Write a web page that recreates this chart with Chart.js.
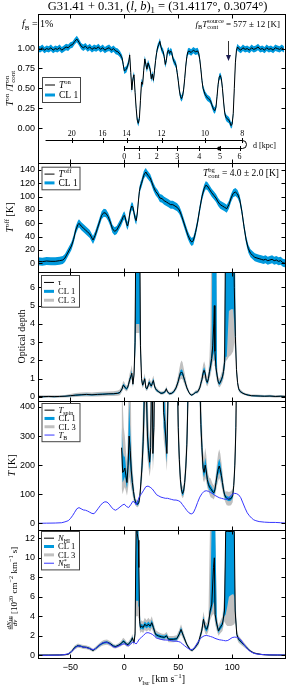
<!DOCTYPE html>
<html>
<head>
<meta charset="utf-8">
<title>G31.41+0.31 HI absorption</title>
<script src="https://cdn.jsdelivr.net/npm/chart.js@4.4.1/dist/chart.umd.min.js"></script>
<style>
  html, body { margin: 0; padding: 0; background: #fff; }
  #fig { position: relative; width: 287px; height: 688px; overflow: hidden; }
  #fig canvas { position: absolute; left: 0; }
</style>
</head>
<body>
<div id="fig">
  <canvas id="c1" width="287" height="173" style="top:0px"></canvas>
  <canvas id="c2" width="287" height="129" style="top:153px"></canvas>
  <canvas id="c3" width="287" height="149" style="top:262px"></canvas>
  <canvas id="c4" width="287" height="149" style="top:391px"></canvas>
  <canvas id="c5" width="287" height="168" style="top:520px"></canvas>
</div>
<script>
// velocity axis (km/s)
const vMin = -80, vMax = 149;
const xTicks = [-50, 0, 50, 100];

// panel 1: on-source / continuum ratio
const vOn = [
  -80,-78,-76,-74,-72,-70,-68,-66,-64,-62,
  -60,-58,-56,-54,-52,-50,-48,-46,-44,-42,
  -40,-38,-36,-34,-32,-30,-28,-26,-24,-22,
  -20,-18,-16,-14,-12,-10,-8,-6,-4,-2,
  -1,0,1,2,3,4,5,6,7,8,
  9,10,11,12,13,14,15,16,17,18,
  19,20,21,22,23,24,25,26,27,28,
  29,30,31,32,33,34,35,36,37,38,
  39,40,41,42,43,44,45,46,47,48,
  49,50,51,52,53,54,55,56,57,58,
  59,60,62,64,66,68,69,70,71,72,
  73,74,75,76,77,78,79,80,81,82,
  83,84,85,86,87,88,89,90,91,92,
  93,94,95,96,97,98,99,100,101,102,
  103,104,105,106,108,110,112,114,116,118,
  120,122,124,126,128,130,132,134,136,138,
  140,142,144,146,148
];
const onRatio = [
  1.00,0.99,1.01,0.98,1.00,0.99,1.01,0.98,1.00,0.99,
  1.01,0.98,1.00,1.02,1.01,1.04,1.05,1.09,1.12,1.08,
  1.03,1.01,1.03,1.00,1.02,0.99,1.01,1.00,1.02,0.99,
  1.01,0.98,1.00,1.01,0.98,1.00,0.97,0.96,0.93,0.88,
  0.80,0.72,0.73,0.74,0.78,0.82,0.92,0.70,0.48,0.62,
  0.67,0.45,0.25,0.10,0.06,0.12,0.35,0.58,0.55,0.72,
  0.87,0.80,0.74,0.82,0.78,0.74,0.62,0.68,0.60,0.72,
  0.85,0.95,1.02,1.05,1.09,1.02,0.98,0.96,0.90,0.80,
  0.85,0.96,0.98,0.94,0.97,0.95,0.88,0.84,0.82,0.79,
  0.70,0.60,0.48,0.40,0.37,0.40,0.48,0.62,0.78,0.90,
  0.96,0.97,0.95,0.98,0.96,0.97,0.94,0.86,0.74,0.60,
  0.50,0.46,0.42,0.40,0.38,0.37,0.36,0.34,0.30,0.26,
  0.23,0.22,0.26,0.40,0.55,0.64,0.66,0.62,0.50,0.34,
  0.20,0.14,0.12,0.11,0.10,0.07,0.03,0.05,0.18,0.50,
  0.82,0.98,1.02,1.00,0.98,1.01,0.99,1.00,0.98,1.01,
  0.99,1.00,1.02,0.99,1.00,0.98,1.01,0.99,1.00,0.98,
  1.01,1.00,0.99,1.01,0.99
];
const onBand = 0.04;
const onTicks = [0, 0.25, 0.5, 0.75, 1.0];

// distance axis drawn in panel 1
const distFar = [20, 16, 14, 12, 10, 8];
const distFarV = [-48.6, -20.2, 2.1, 34.6, 74.9, 109.3];
const distNear = [0, 1, 2, 3, 4, 5, 6];
const distNearV = [0, 13.9, 30, 49, 69.6, 88.8, 106.9];
const distStartV = -73, tangentV = 109.6, sourceV = 88, arrowV = 96;

// panel 2: off-source brightness temperature
const vOff = [
  -80,-76,-72,-68,-64,-60,-57,-55,-53,-51,
  -49,-47,-45,-43,-42,-40,-38,-36,-34,-32,
  -30,-29,-27,-25,-23,-21,-19,-17,-15,-13,
  -11,-9,-7,-5,-3,-1,0,1,2,3,
  4,5,6,7,8,9,10,11,12,13,
  14,15,16,17,18,19,20,21,22,23,
  24,25,27,29,31,33,35,37,39,41,
  43,45,47,49,51,53,55,57,59,61,
  62.5,64,66,68,70,72,74,75.5,77,79,
  81,83,85,87,89,91,93,95,97,99,
  101,103,105,107,109,111,113,115,117,119,
  121,123,125,127,129,131,133,135,137,139,
  141,143,145,147,149
];
const tOff = [
  3,2.5,3.5,3,3,4,5,8,14,20,
  26,36,50,58,60,56,53,50,47,44,
  38,35,42,52,62,72,76,75,70,62,
  52,48,50,56,62,70,72,68,60,56,
  62,74,82,86,84,76,68,64,74,92,
  108,116,120,126,132,135,137,134,132,130,
  128,124,115,108,104,98,97,94,92,90,
  88,88,86,84,80,72,62,52,42,35,
  32,34,46,62,82,100,112,117,116,111,
  106,102,98,92,88,86,84,82,88,98,
  105,107,104,96,78,55,35,22,15,12,
  9,8,7,6,5,6,4,5,6,4,
  5,3,4,1,0
];
const offBand = 6;
const offTicks = [0, 20, 40, 60, 80, 100, 120, 140];

// panel 3: optical depth with confidence bands
const vTau = [
  -80,-75,-70,-65,-60,-55,-50,-45,-40,-35,
  -30,-25,-20,-15,-10,-6,-4,-2,-1,0,
  1,2,3,4,5,6,7,8,9,10,
  11,12,13,14,15,16,17,18,19,20,
  21,22,23,24,25,26,27,28,29,30,
  32,34,36,38,39,40,42,44,46,48,
  50,51,52,53,54,55,56,57,58,59,
  60,61,62.5,64,66,68,70,71,72,73,
  74,75,76,77,78,79,80,81,82,83,
  83.5,84,85,86,87,88,89,90,91,92,
  93,94,95,96,97,99,101,102,103,104,
  105,106,107.5,110,112,115,118,122,126,130,
  135,140,145,149
];
const tau = [
  .03,.02,.03,.02,.03,.04,.07,.10,.12,.14,
  .12,.14,.15,.17,.18,.20,.25,.45,.65,.60,
  .50,.45,.50,.70,.95,1.10,1.30,.70,1.20,3.0,
  12,12,12,12,2.8,1.0,.65,.80,1.0,.50,
  .45,.60,.80,.70,.60,.75,.90,.60,.45,.37,
  .28,.20,.22,.30,.45,.28,.18,.20,.30,.50,
  .85,1.10,1.30,1.37,1.30,1.10,.90,.70,.50,.37,
  .25,.15,.10,.15,.25,.28,.50,.75,.95,1.30,
  1.46,1.30,.90,.80,1.00,1.40,1.70,2.10,2.80,4.00,
  5.00,2.50,1.60,1.20,.85,.73,.80,.95,1.10,1.40,
  1.90,10,10,10,10,10,10,6.0,3.3,1.5,
  .80,.45,.30,.20,.15,.10,.07,.06,.05,.04,
  .05,.03,.04,.03
];
const tauLo1 = [
  0,-.01,0,-.01,0,.01,.04,.06,.08,.10,
  .08,.10,.11,.13,.14,.16,.20,.39,.57,.52,
  .43,.39,.43,.62,.85,.98,1.15,.60,1.05,2.2,
  4.0,4.0,4.0,4.0,2.3,.85,.57,.70,.88,.43,
  .39,.52,.70,.61,.52,.65,.78,.52,.39,.32,
  .24,.16,.18,.25,.39,.24,.14,.16,.25,.43,
  .75,.97,1.15,1.22,1.15,.97,.80,.62,.44,.32,
  .21,.12,.07,.12,.21,.24,.43,.65,.83,1.14,
  1.28,1.14,.79,.70,.87,1.20,1.45,1.80,2.20,2.40,
  2.60,2.00,1.35,1.05,.75,.64,.70,.83,.96,1.22,
  1.60,2.2,2.2,3.5,4.7,4.8,4.8,4.0,2.8,1.3,
  .70,.39,.26,.17,.12,.07,.04,.03,.02,.01,
  .02,0,.01,0
];
const tauHi1 = [
  .06,.05,.06,.05,.06,.07,.10,.14,.16,.18,
  .16,.18,.19,.21,.22,.24,.30,.51,.73,.68,
  .57,.51,.57,.78,1.05,1.22,1.45,.80,1.40,4.5,
  12,12,12,12,3.6,1.15,.73,.90,1.12,.57,
  .51,.68,.90,.79,.68,.85,1.02,.68,.51,.42,
  .32,.24,.26,.35,.51,.32,.22,.24,.35,.57,
  .95,1.23,1.45,1.52,1.45,1.23,1.00,.78,.56,.42,
  .29,.18,.13,.18,.29,.32,.57,.85,1.07,1.46,
  1.64,1.46,1.01,.90,1.13,1.60,2.00,2.60,12,12,
  12,12,12,1.40,.95,.82,.90,1.07,1.24,1.60,
  2.40,12,12,12,12,12,12,12,4.5,1.75,
  .92,.52,.34,.23,.18,.13,.10,.09,.08,.07,
  .08,.06,.07,.06
];
const tauLo3 = [
  -.04,-.05,-.04,-.05,-.04,-.03,-.02,0,.02,.03,
  .02,.03,.04,.05,.06,.07,.10,.28,.45,.42,
  .35,.30,.35,.50,.70,.85,1.00,.50,.90,1.8,
  3.5,3.5,3.5,3.5,1.9,.70,.48,.60,.75,.36,
  .33,.44,.60,.52,.45,.55,.68,.45,.33,.27,
  .20,.12,.13,.20,.32,.19,.10,.12,.20,.35,
  .60,.80,.95,1.00,.95,.80,.65,.50,.36,.26,
  .17,.09,.04,.09,.17,.19,.34,.52,.68,.95,
  1.08,.95,.65,.58,.72,1.00,1.20,1.50,1.90,2.00,
  2.10,1.70,1.10,.85,.62,.52,.58,.68,.80,1.00,
  1.35,2.0,2.0,2.1,2.2,2.3,2.5,3.0,2.4,1.1,
  .58,.32,.20,.13,.09,.04,.01,0,-.01,-.02,
  -.02,-.04,-.03,-.04
];
const tauHi3 = [
  .10,.09,.10,.09,.10,.11,.16,.22,.24,.26,
  .24,.27,.28,.30,.32,.35,.42,.65,.88,.82,
  .68,.62,.70,.95,1.30,1.50,1.75,.95,1.70,6.0,
  12,12,12,12,5.5,1.40,.85,1.05,1.30,.66,
  .60,.80,1.05,.92,.80,1.00,1.18,.80,.60,.50,
  .38,.30,.32,.42,.60,.38,.27,.30,.42,.70,
  1.20,1.55,1.85,2.00,1.90,1.60,1.30,.98,.70,.52,
  .35,.23,.17,.23,.35,.40,.70,1.05,1.30,1.75,
  1.95,1.75,1.25,1.10,1.40,2.20,4.0,12,12,12,
  12,12,12,1.80,1.15,1.00,1.10,1.30,1.50,1.95,
  3.0,12,12,12,12,12,12,12,6.0,2.1,
  1.10,.62,.42,.28,.22,.17,.14,.13,.12,.11,
  .12,.10,.11,.10
];
const tauTicks = [0, 1, 2, 3, 4, 5, 6];

// panel 4: spin temperature and background brightness temperature
const vSpin = [
  -2.5,-1.5,-0.5,0.5,1.5,2.5,3.5,4.5,5.5,6.5,
  7.5,8.5,9.5,10.5,11.5,12.5,13.5,14.5,15.5,16.5,
  17.5,18.5,19.5,20.5,21.5,22.5,23.5,24.5,25.5,26.5,
  27.5,28.5,30,34,35.5,36.5,37.5,38.5,39.5,40.5,
  41.5,47.5,49,50,51,52,53,54,55,56,
  57,58,59,60,69,70,71,72,73,74,
  75,76,77,78,79,80,81,82,83,84,
  85,86,87,88,89,90,91,92,93,94,
  95,97,99,100.5,101.5,102.5,103.5,104.5
];
const tSpin = [
  260,175,180,190,165,140,200,300,250,180,
  140,110,85,72,67,66,72,95,145,200,
  280,420,700,450,300,250,210,260,700,240,
  330,700,700,700,700,380,350,290,240,420,
  700,700,600,330,220,150,115,102,110,140,
  190,270,420,700,700,500,340,260,190,175,
  200,180,150,134,125,120,115,108,105,115,
  140,165,185,197,185,165,140,115,98,90,
  86,83,85,95,130,200,330,700
];
const spinLo1 = [
  200,140,150,160,140,120,160,220,190,150,
  120,95,77,66,62,61,66,86,130,175,
  240,340,700,380,260,220,185,220,500,210,
  280,700,700,700,600,330,300,250,210,350,
  700,700,480,290,195,135,105,94,100,127,
  170,240,360,700,700,420,300,230,170,157,
  178,160,136,122,114,110,106,100,97,105,
  127,148,165,176,165,148,126,105,90,83,
  79,76,78,87,118,178,290,700
];
const spinHi1 = [
  330,250,230,230,195,165,250,420,320,220,
  165,125,95,79,73,72,79,105,165,235,
  330,700,700,700,360,290,240,310,700,280,
  400,700,700,700,700,450,420,340,280,700,
  700,700,700,380,250,170,127,112,121,155,
  215,310,700,700,700,700,400,300,215,196,
  225,203,166,148,138,132,126,118,114,127,
  155,185,208,222,208,185,156,127,107,98,
  94,91,93,104,145,228,390,700
];
const spinLo3 = [
  120,100,115,125,110,95,120,160,140,120,
  100,80,68,60,56,55,60,76,110,150,
  200,280,420,300,220,190,160,190,350,180,
  240,450,700,700,420,290,260,220,180,300,
  700,700,400,250,170,120,95,86,91,113,
  150,210,310,700,700,360,260,200,150,140,
  155,142,122,110,100,90,88,85,82,93,
  112,130,145,155,146,130,112,94,80,70,
  62,60,62,72,105,155,250,500
];
const spinHi3 = [
  700,420,330,300,250,210,330,700,700,300,
  200,150,108,86,80,79,88,120,200,300,
  420,700,700,700,450,350,290,380,700,340,
  700,700,700,700,700,700,700,420,340,700,
  700,700,700,460,290,195,140,125,135,178,
  250,370,700,700,700,700,480,350,250,225,
  260,235,188,166,156,155,145,135,130,142,
  175,210,240,255,240,212,178,142,118,108,
  110,108,110,120,165,270,480,700
];
const vTB = [
  -80,-72,-64,-58,-55,-52,-50,-48,-46,-44,
  -42,-40,-38,-36,-34,-32,-30,-28,-26,-24,
  -22,-20,-18,-16,-14,-12,-10,-8,-6,-4,
  -2,0,2,4,6,8,10,11,12,14,
  16,18,20,22,24,26,28,30,32,34,
  36,38,40,42,44,46,48,50,52,54,
  56,58,60,62,64,66,68,70,72,74,
  76,78,80,82,84,86,88,90,92,94,
  96,98,100,102,104,106,108,110,112,114,
  116,118,120,122,125,130,135,140,145,149
];
const tB = [
  0,0.5,1,2,5,9,16,26,38,50,
  54,50,46,45,42,38,34,33,42,52,
  62,70,74,73,66,56,48,45,50,56,
  62,66,58,54,64,76,70,64,72,92,
  102,114,126,128,124,118,108,98,94,90,
  88,86,86,84,82,80,80,78,74,64,
  54,44,36,32,36,52,72,90,102,110,
  112,110,106,102,96,92,88,86,84,82,
  84,92,100,103,102,98,88,70,52,36,
  26,18,12,9,6,4,3,3,2,1
];
const spinTicks = [0, 100, 200, 300, 400];

// panel 5: HI column density per unit velocity (1e20 cm^-2 km^-1 s)
const vNH = [
  -80,-70,-60,-55,-52,-49,-46,-43,-40,-38,
  -35,-32,-29,-26,-24,-21,-19,-16,-13,-10,
  -8,-5,-3,-1,0.5,2,3.5,5,6.5,7.5,
  9,10,11,12,13,13.5,14.2,15,16,17.5,
  19,20.7,22.3,24,25.5,27,29,31.5,34.5,37,
  39.3,41,45.5,48.6,50.8,52.6,54.8,57.9,61,63,
  65.6,68.7,71.8,73.4,75,76.5,78,79.6,81.1,82.7,
  83.5,84.2,85.8,87.3,88.9,91,92.9,94,95.5,97,
  99,101,102,102.8,104.3,106,109,112,114.5,116.7,
  120,123,128,135,142,149
];
const nH = [
  .03,.03,.04,.06,.12,.38,.8,1.0,.92,.85,
  .82,.7,.5,.75,.95,1.2,1.3,1.35,1.2,.95,
  .9,1.05,1.2,1.45,1.35,1.15,1.1,1.3,1.5,1.8,
  1.3,2.2,14,12.5,11.8,9,3.5,2.85,3.0,2.85,
  3.2,3.0,3.2,3.0,3.35,2.85,2.15,2.0,1.9,1.85,
  2.0,1.65,1.65,1.7,2.15,2.65,2.0,1.13,.6,.5,
  .8,1.3,2.5,3.7,2.85,2.67,3.2,4.55,5.25,9.0,
  10.0,4.2,3.2,2.5,2.85,3.2,4.55,12.7,12.7,12.7,
  12.7,12.7,12.7,4.55,2.15,1.65,1.3,.96,.7,.45,
  .25,.17,.08,.04,.03,.03
];
const nLo1 = [
  0,0,.01,.03,.08,.32,.72,.92,.85,.78,
  .75,.63,.44,.68,.87,1.1,1.2,1.25,1.1,.87,
  .82,.96,1.1,1.33,1.24,1.05,1.0,1.18,1.36,1.63,
  1.18,1.9,5.6,5.6,5.6,5.0,3.0,2.6,2.75,2.6,
  2.93,2.75,2.93,2.75,3.07,2.6,1.97,1.84,1.75,1.7,
  1.84,1.52,1.52,1.56,1.97,2.43,1.84,1.03,.54,.45,
  .73,1.18,2.28,3.38,2.6,2.43,2.9,4.1,4.6,5.5,
  5.0,3.7,2.9,2.28,2.6,2.9,4.0,4.2,5.0,6.0,
  6.2,6.3,6.0,4.0,1.97,1.52,1.2,.88,.64,.41,
  .22,.14,.05,.01,0,0
];
const nHi1 = [
  .06,.06,.07,.09,.16,.44,.88,1.08,1.0,.92,
  .89,.77,.56,.82,1.03,1.3,1.4,1.45,1.3,1.03,
  .98,1.14,1.3,1.57,1.46,1.25,1.2,1.42,1.64,1.97,
  1.42,2.5,14,14,14,14,5.0,3.1,3.25,3.1,
  3.47,3.25,3.47,3.25,3.63,3.1,2.33,2.16,2.05,2.0,
  2.16,1.78,1.78,1.84,2.33,2.87,2.16,1.23,.66,.55,
  .87,1.42,2.72,4.02,3.1,2.91,3.5,5.1,14,14,
  14,14,3.6,2.72,3.1,3.5,5.3,14,14,14,
  14,14,14,5.5,2.33,1.78,1.4,1.04,.76,.49,
  .28,.2,.11,.07,.06,.06
];
const nLo3 = [
  -.05,-.05,-.04,-.02,.02,.22,.6,.78,.72,.66,
  .62,.52,.35,.56,.74,.95,1.03,1.08,.95,.74,
  .7,.82,.93,1.1,1.05,.9,.85,1.0,1.15,1.4,
  1.0,1.6,4.0,4.0,4.0,3.8,2.6,2.3,2.45,2.3,
  2.6,2.45,2.6,2.45,2.75,2.35,1.75,1.65,1.57,1.52,
  1.65,1.35,1.35,1.4,1.75,2.15,1.62,.9,.46,.38,
  .63,1.02,2.0,2.95,2.25,2.1,2.5,3.6,4.0,4.3,
  3.9,3.2,2.5,2.0,2.25,2.5,3.5,3.2,3.0,3.0,
  3.0,3.1,3.2,3.4,1.7,1.3,1.02,.75,.55,.34,
  .17,.1,.02,-.03,-.04,-.04
];
const nHi3 = [
  .1,.1,.12,.15,.24,.55,1.0,1.22,1.12,1.05,
  1.02,.9,.66,.95,1.16,1.45,1.57,1.62,1.45,1.16,
  1.1,1.28,1.47,1.8,1.65,1.4,1.35,1.6,1.85,2.2,
  1.6,3.0,14,14,14,14,6.5,3.5,3.6,3.45,
  3.85,3.6,3.85,3.6,4.0,3.4,2.6,2.4,2.25,2.2,
  2.4,1.98,1.98,2.05,2.6,3.2,2.42,1.38,.75,.63,
  .98,1.6,3.05,4.5,3.5,3.3,4.0,14,14,14,
  14,14,4.1,3.05,3.5,4.0,6.5,14,14,14,
  14,14,14,7,2.7,2.0,1.6,1.2,.87,.58,
  .34,.25,.15,.11,.1,.1
];
// optically thin column density, on the vTB grid
const nStar = [
  0,0.01,0.02,0.04,0.09,0.16,0.29,0.47,0.69,0.91,
  0.98,0.91,0.84,0.82,0.76,0.69,0.62,0.60,0.76,0.95,
  1.13,1.27,1.35,1.33,1.20,1.02,0.87,0.82,0.91,1.02,
  1.13,1.20,1.06,0.98,1.16,1.38,1.27,1.16,1.31,1.67,
  1.86,2.07,2.29,2.33,2.26,2.15,1.97,1.78,1.71,1.64,
  1.60,1.57,1.57,1.53,1.49,1.46,1.46,1.42,1.35,1.16,
  0.98,0.80,0.66,0.58,0.66,0.95,1.31,1.64,1.86,2.00,
  2.04,2.00,1.93,1.86,1.75,1.67,1.60,1.57,1.53,1.49,
  1.53,1.67,1.82,1.87,1.86,1.78,1.60,1.27,0.95,0.66,
  0.47,0.33,0.22,0.16,0.11,0.07,0.05,0.05,0.04,0.02
];
const nhTicks = [0, 2, 4, 6, 8, 10, 12];

// ---- styles ----
const SERIF = '"Liberation Serif", "DejaVu Serif", serif';
const SANS = '"Liberation Sans", Arial, sans-serif';
const BLUE = 'rgb(0,153,221)';
const GREY = 'rgb(192,192,192)';
const LINE_BLUE = 'rgb(55,55,255)';
const NONE = 'rgba(0,0,0,0)';

Chart.defaults.font.family = SANS;
Chart.defaults.font.size = 9;
Chart.defaults.color = '#000';

const pts = (xs, ys) => xs.map((x, i) => ({ x: x, y: ys[i] }));

// draws math-like text: parts = [text, style], style r / i / ^ / _ (add ! to stack the next part)
function rich(ctx, parts, x, y, size, align) {
  const fontFor = st => (st.includes('i') ? 'italic ' : '') +
    ((st.includes('^') || st.includes('_')) ? size * 0.7 : size) + 'px ' + SERIF;
  const items = [];
  let cx = 0, stackW = 0;
  parts.forEach(([t, st]) => {
    ctx.font = fontFor(st);
    const w = ctx.measureText(t).width;
    const dy = st.includes('^') ? -size * 0.4 : st.includes('_') ? size * 0.25 : 0;
    items.push({ t: t, font: ctx.font, x: cx, dy: dy });
    if (st.includes('!')) stackW = w;
    else { cx += Math.max(w, stackW); stackW = 0; }
  });
  const x0 = align === 'center' ? x - cx / 2 : align === 'right' ? x - cx : x;
  ctx.textAlign = 'left';
  ctx.textBaseline = 'alphabetic';
  items.forEach(it => { ctx.font = it.font; ctx.fillText(it.t, x0 + it.x, y + it.dy); });
  return cx;
}

function vlabel(ctx, parts, x, yc, size) {
  ctx.save();
  ctx.translate(x, yc);
  ctx.rotate(-Math.PI / 2);
  ctx.fillStyle = '#000';
  rich(ctx, parts, 0, 0, size, 'center');
  ctx.restore();
}

function legend(ctx, x, y, rowH, size, entries) {
  const w = 38, h = rowH * entries.length + 5;
  ctx.save();
  ctx.fillStyle = '#fff';
  ctx.fillRect(x, y, w, h);
  ctx.strokeStyle = '#444';
  ctx.lineWidth = 1;
  ctx.strokeRect(x + 0.5, y + 0.5, w, h);
  entries.forEach((e, i) => {
    const cy = y + 3 + rowH * (i + 0.5);
    ctx.strokeStyle = e.c;
    ctx.lineWidth = e.w;
    ctx.beginPath();
    ctx.moveTo(x + 3, cy);
    ctx.lineTo(x + 13, cy);
    ctx.stroke();
    ctx.fillStyle = '#000';
    rich(ctx, e.l, x + 17, cy + size * 0.33, size, 'left');
  });
  ctx.restore();
}

const CL1 = { c: BLUE, w: 3, l: [['CL 1', 'r']] };
const CL3 = { c: GREY, w: 3, l: [['CL 3', 'r']] };

// frame with inward ticks on all four sides
const framePlugin = {
  id: 'frame',
  afterDraw(chart) {
    const { ctx, chartArea: a, scales: { x, y } } = chart;
    ctx.save();
    ctx.strokeStyle = '#000';
    ctx.lineWidth = 1;
    const L = Math.round(a.left) + 0.5, R = Math.round(a.right) + 0.5;
    const T = Math.round(a.top) + 0.5, B = Math.round(a.bottom) + 0.5;
    ctx.strokeRect(L, T, R - L, B - T);
    ctx.beginPath();
    xTicks.forEach(v => {
      const px = Math.round(x.getPixelForValue(v)) + 0.5;
      ctx.moveTo(px, T); ctx.lineTo(px, T + 4);
      ctx.moveTo(px, B); ctx.lineTo(px, B - 4);
    });
    y.ticks.forEach(t => {
      const py = Math.round(y.getPixelForValue(t.value)) + 0.5;
      ctx.moveTo(L, py); ctx.lineTo(L + 4, py);
      ctx.moveTo(R, py); ctx.lineTo(R - 4, py);
    });
    ctx.stroke();
    ctx.restore();
  }
};

function line(data, color, width, order) {
  return { data: data, borderColor: color, borderWidth: width, pointRadius: 0, fill: false, order: order };
}
function bandPair(xs, lo, hi, color, order) {
  return [
    { data: pts(xs, hi), borderColor: NONE, borderWidth: 0, pointRadius: 0, backgroundColor: color, fill: '+1', order: order },
    { data: pts(xs, lo), borderColor: NONE, borderWidth: 0, pointRadius: 0, fill: false, order: order }
  ];
}

function panel(id, o) {
  return new Chart(document.getElementById(id), {
    type: 'line',
    data: { datasets: o.datasets },
    options: {
      responsive: false,
      animation: false,
      events: [],
      layout: { padding: { left: 0, right: 2, top: o.padTop, bottom: o.padBottom } },
      elements: { point: { radius: 0 }, line: { tension: 0 } },
      plugins: { legend: { display: false }, tooltip: { enabled: false } },
      scales: {
        x: { type: 'linear', min: vMin, max: vMax, display: false },
        y: {
          min: o.yMin, max: o.yMax,
          afterFit: s => { s.width = 38; },
          afterBuildTicks: s => { s.ticks = o.yTicks.map(v => ({ value: v })); },
          grid: { display: false, drawTicks: false },
          border: { display: false },
          ticks: { padding: 3, color: '#000', autoSkip: false, font: { size: 9, family: SANS }, callback: o.fmt || (v => String(v)) }
        }
      }
    },
    plugins: [framePlugin, { id: 'extras', afterDraw: o.extras }]
  });
}

// ---- panel 1 ----
panel('c1', {
  padTop: 14, padBottom: 10, yMin: -0.44, yMax: 1.435, yTicks: onTicks,
  fmt: v => v.toFixed(2),
  datasets: [
    line(pts(vOn, onRatio), '#000', 1, 0),
    ...bandPair(vOn, onRatio.map(v => v - onBand), onRatio.map(v => v + onBand), BLUE, 1)
  ],
  extras(chart) {
    const { ctx, chartArea: a, scales: { x } } = chart;
    ctx.save();
    ctx.fillStyle = '#000';
    rich(ctx, [['G31.41 + 0.31, (', 'r'], ['l', 'i'], [', ', 'r'], ['b', 'i'], [')', 'r'], ['1', '_'],
      [' = (31.4117°, 0.3074°)', 'r']], (a.left + a.right) / 2 - 4, a.top - 4.5, 12.5, 'center');
    rich(ctx, [['f', 'i'], ['B', '_'], [' = 1%', 'r']], 22, a.top + 13, 10, 'left');
    rich(ctx, [['f', 'i'], ['B', '_'], ['T', 'i'], ['source', '^!'], ['cont', '_'], [' = 577 ± 12 [K]', 'r']],
      280, a.top + 13, 9, 'right');
    vlabel(ctx, [['T', 'i'], ['on', '^'], [' /', 'r'], ['T', 'i'], ['on', '^!'], ['cont', '_']], 12.5, (a.top + a.bottom) / 2, 10);
    legend(ctx, 42, a.top + 63, 10, 9.5, [{ c: '#000', w: 1, l: [['T', 'i'], ['on', '^']] }, CL1]);

    // arrow marking the source velocity
    const ax = Math.round(x.getPixelForValue(arrowV)) + 0.5;
    ctx.strokeStyle = '#333';
    ctx.lineWidth = 1;
    ctx.beginPath();
    ctx.moveTo(ax, a.top + 27);
    ctx.lineTo(ax, a.top + 42);
    ctx.stroke();
    ctx.fillStyle = '#1c1c50';
    ctx.beginPath();
    ctx.moveTo(ax - 2.5, a.top + 41);
    ctx.lineTo(ax + 2.5, a.top + 41);
    ctx.lineTo(ax, a.top + 47);
    ctx.closePath();
    ctx.fill();

    // kinematic distance axis
    const yU = a.top + 126.5, yL = a.top + 134.5;
    const xT = x.getPixelForValue(tangentV);
    ctx.strokeStyle = '#000';
    ctx.beginPath();
    ctx.moveTo(x.getPixelForValue(distStartV), yU);
    ctx.lineTo(xT, yU);
    ctx.arc(xT, (yU + yL) / 2, (yL - yU) / 2, -Math.PI / 2, Math.PI / 2);
    ctx.lineTo(x.getPixelForValue(distNearV[0]), yL);
    distFarV.forEach(v => { const px = Math.round(x.getPixelForValue(v)) + 0.5; ctx.moveTo(px, yU - 2.5); ctx.lineTo(px, yU + 2.5); });
    distNearV.forEach(v => { const px = Math.round(x.getPixelForValue(v)) + 0.5; ctx.moveTo(px, yL - 2.5); ctx.lineTo(px, yL + 2.5); });
    ctx.stroke();
    ctx.fillStyle = '#000';
    ctx.font = '8px ' + SERIF;
    ctx.textAlign = 'center';
    distFar.forEach((d, i) => ctx.fillText(String(d), x.getPixelForValue(distFarV[i]), yU - 4.5));
    distNear.forEach((d, i) => ctx.fillText(String(d), x.getPixelForValue(distNearV[i]), yL + 10));
    ctx.beginPath();
    ctx.arc(x.getPixelForValue(sourceV), yL, 2, 0, Math.PI * 2);
    ctx.fill();
    ctx.textAlign = 'left';
    ctx.fillText('d [kpc]', 253, (yU + yL) / 2 + 3);
    ctx.restore();
  }
});

// ---- panel 2 ----
panel('c2', {
  padTop: 10, padBottom: 10, yMin: -13, yMax: 150.5, yTicks: offTicks,
  datasets: [
    line(pts(vOff, tOff), '#000', 1, 0),
    ...bandPair(vOff, tOff.map(v => v - offBand), tOff.map(v => v + offBand), BLUE, 1)
  ],
  extras(chart) {
    const { ctx, chartArea: a } = chart;
    ctx.save();
    ctx.fillStyle = '#000';
    rich(ctx, [['T', 'i'], ['bg', '^!'], ['cont', '_'], [' = 4.0 ± 2.0 [K]', 'r']], 279, a.top + 13, 9.5, 'right');
    vlabel(ctx, [['T', 'i'], ['off', '^'], [' [K]', 'r']], 12.5, (a.top + a.bottom) / 2, 10);
    legend(ctx, 41.5, a.top + 3.7, 8.8, 9.5, [{ c: '#000', w: 1, l: [['T', 'i'], ['off', '^']] }, CL1]);
    ctx.restore();
  }
});

// ---- panel 3 ----
panel('c3', {
  padTop: 10, padBottom: 10, yMin: -0.22, yMax: 6.84, yTicks: tauTicks,
  datasets: [
    line(pts(vTau, tau), '#000', 1, 0),
    ...bandPair(vTau, tauLo1, tauHi1, BLUE, 1),
    ...bandPair(vTau, tauLo3, tauHi3, GREY, 2)
  ],
  extras(chart) {
    const { ctx, chartArea: a } = chart;
    ctx.save();
    vlabel(ctx, [['Optical depth', 'r']], 24.5, (a.top + a.bottom) / 2, 10);
    legend(ctx, 41, a.top + 3, 8.9, 8.5, [{ c: '#000', w: 1, l: [['τ', 'i']] }, CL1, CL3]);
    ctx.restore();
  }
});

// ---- panel 4 ----
panel('c4', {
  padTop: 10, padBottom: 10, yMin: -23, yMax: 420.5, yTicks: spinTicks,
  datasets: [
    line(pts(vTB, tB), LINE_BLUE, 1, -1),
    line(pts(vSpin, tSpin), '#000', 1, 0),
    ...bandPair(vSpin, spinLo1, spinHi1, BLUE, 1),
    ...bandPair(vSpin, spinLo3, spinHi3, GREY, 2)
  ],
  extras(chart) {
    const { ctx, chartArea: a } = chart;
    ctx.save();
    vlabel(ctx, [['T', 'i'], [' [K]', 'r']], 15, (a.top + a.bottom) / 2, 10);
    legend(ctx, 41.5, a.top + 2, 8.3, 8.5, [
      { c: '#000', w: 1, l: [['T', 'i'], ['spin', '_']] }, CL1, CL3,
      { c: LINE_BLUE, w: 1, l: [['T', 'i'], ['B', '_']] }
    ]);
    ctx.restore();
  }
});

// ---- panel 5 ----
panel('c5', {
  padTop: 10, padBottom: 30, yMin: -0.27, yMax: 12.85, yTicks: nhTicks,
  datasets: [
    line(pts(vTB, nStar), LINE_BLUE, 1, -1),
    line(pts(vNH, nH), '#000', 1, 0),
    ...bandPair(vNH, nLo1, nHi1, BLUE, 1),
    ...bandPair(vNH, nLo3, nHi3, GREY, 2)
  ],
  extras(chart) {
    const { ctx, chartArea: a, scales: { x } } = chart;
    ctx.save();
    ctx.fillStyle = '#000';
    // y label: dN_HI/dv [10^20 cm^-2 km^-1 s]
    ctx.translate(16.5, (a.top + a.bottom) / 2 - 6);
    ctx.rotate(-Math.PI / 2);
    const num = [['dN', 'i'], ['HI', '_']], den = [['dv', 'i']];
    const br = [[' [10', 'r'], ['20', '^'], [' cm', 'r'], ['−2', '^'], [' km', 'r'], ['−1', '^'], [' s]', 'r']];
    const fw = 13;
    const bw = rich(ctx, br, -1000, -1000, 9, 'left');
    const start = -(fw + bw) / 2;
    ctx.fillRect(start, -4.8, fw, 0.7);
    rich(ctx, num, start + fw / 2, -6, 7, 'center');
    rich(ctx, den, start + fw / 2, 0.8, 7, 'center');
    rich(ctx, br, start + fw, 0, 9, 'left');
    ctx.setTransform(1, 0, 0, 1, 0, 0);

    legend(ctx, 41, a.top + 1, 8.35, 8.5, [
      { c: '#000', w: 1, l: [['N', 'i'], ['HI', '_']] }, CL1, CL3,
      { c: LINE_BLUE, w: 1, l: [['N', 'i'], ['*', '^!'], ['HI', '_']] }
    ]);

    // velocity tick labels and axis title
    ctx.fillStyle = '#000';
    ctx.font = '9px ' + SANS;
    ctx.textAlign = 'center';
    ctx.textBaseline = 'alphabetic';
    xTicks.forEach(v => ctx.fillText(v < 0 ? '\u2212' + Math.abs(v) : String(v), x.getPixelForValue(v), a.bottom + 11.5));
    rich(ctx, [['v', 'i'], ['lsr', '_'], [' [km s', 'r'], ['−1', '^'], [']', 'r']], (a.left + a.right) / 2, a.bottom + 24, 10, 'center');
    ctx.restore();
  }
});
</script>
</body>
</html>
